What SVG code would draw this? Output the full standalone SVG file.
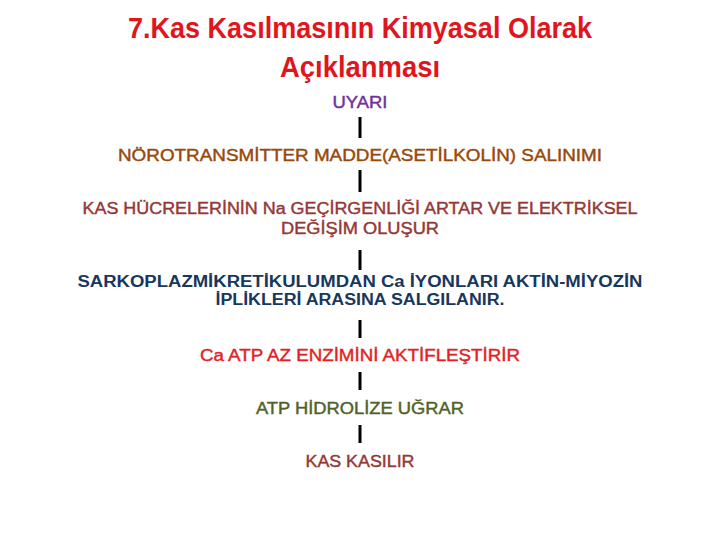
<svg xmlns="http://www.w3.org/2000/svg" width="720" height="540" viewBox="0 0 720 540">
<style>
text{font-family:"Liberation Sans","Open Sans",sans-serif;text-anchor:middle;font-size:16px}
.b text{stroke-width:0.4}
.t{font-size:29px;font-weight:bold;fill:#E0161C}
.c line{stroke:#000;stroke-width:3}
</style>
<rect width="720" height="540" fill="#fff"/>
<g id="title">
<text class="t" x="360" y="38" textLength="464" lengthAdjust="spacingAndGlyphs">7.Kas Kasılmasının Kimyasal Olarak</text>
<text class="t" x="360" y="77" textLength="160" lengthAdjust="spacingAndGlyphs">Açıklanması</text>
</g>
<g class="c" id="connectors">
<line x1="360" y1="117" x2="360" y2="138"/>
<line x1="360" y1="170" x2="360" y2="192"/>
<line x1="360" y1="250" x2="360" y2="270"/>
<line x1="360" y1="320" x2="360" y2="338"/>
<line x1="360" y1="372" x2="360" y2="390"/>
<line x1="360" y1="425" x2="360" y2="443"/>
</g>
<g class="b">
<g id="n1"><text x="360" y="108" fill="#7030A0" stroke="#7030A0" textLength="55" lengthAdjust="spacingAndGlyphs">UYARI</text></g>
<g id="n2"><text x="360" y="161" fill="#984807" stroke="#984807" textLength="484" lengthAdjust="spacingAndGlyphs">NÖROTRANSMİTTER MADDE(ASETİLKOLİN) SALINIMI</text></g>
<g id="n3" fill="#953735" stroke="#953735">
<text x="360" y="214" textLength="555" lengthAdjust="spacingAndGlyphs">KAS HÜCRELERİNİN Na GEÇİRGENLİĞİ ARTAR VE ELEKTRİKSEL</text>
<text x="360" y="234" textLength="158" lengthAdjust="spacingAndGlyphs">DEĞİŞİM OLUŞUR</text>
</g>
<g id="n4" fill="#17375E">
<text x="360" y="287" font-weight="bold" textLength="565" lengthAdjust="spacingAndGlyphs">SARKOPLAZMİKRETİKULUMDAN Ca İYONLARI AKTİN-MİYOZİN</text>
<text x="360" y="305" font-weight="bold" textLength="289" lengthAdjust="spacingAndGlyphs">İPLİKLERİ ARASINA SALGILANIR.</text>
</g>
<g id="n5"><text x="360" y="361" fill="#E31E24" stroke="#E31E24" textLength="320" lengthAdjust="spacingAndGlyphs">Ca ATP AZ ENZİMİNİ AKTİFLEŞTİRİR</text></g>
<g id="n6"><text x="360" y="414" fill="#4F6228" stroke="#4F6228" textLength="208" lengthAdjust="spacingAndGlyphs">ATP HİDROLİZE UĞRAR</text></g>
<g id="n7"><text x="360" y="467" fill="#953735" stroke="#953735" textLength="109" lengthAdjust="spacingAndGlyphs">KAS KASILIR</text></g>
</g>
</svg>
